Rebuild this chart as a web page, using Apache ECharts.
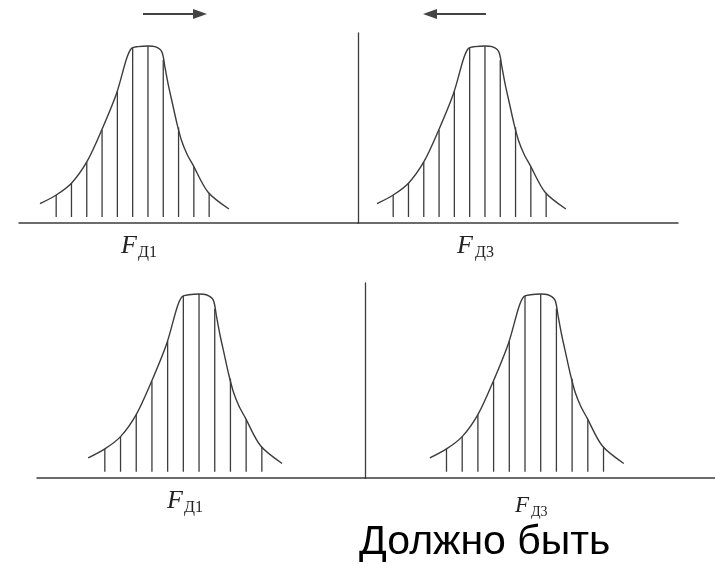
<!DOCTYPE html>
<html>
<head>
<meta charset="utf-8">
<script src="https://cdn.jsdelivr.net/npm/echarts@6/dist/echarts.min.js"></script>
<style>
  html, body { margin: 0; padding: 0; background: #fff; }
  #main { width: 715px; height: 564px; }
</style>
</head>
<body>
<div id="main"></div>
<script>
// bell curve, x in stripe steps from the peak, y in % of peak height
const curveX = [-7.06, -6, -5, -4, -3.1, -2.05, -1.39, -1.07, -0.65, 0, 0.46, 0.9, 1.11, 1.33, 1.6, 1.9, 2.2, 2.55, 2.94, 3.92, 5.29];
const curveY = [10.9, 15.8, 22.5, 34.5, 51, 73.3, 93, 98.7, 99.6, 100, 99.6, 96.8, 88, 78, 67.5, 56, 46.5, 39, 32.8, 17.5, 7.9];

// vertical hatch lines under the curve
const stripeX = [-6, -5, -4, -3, -2, -1, 0, 1, 2, 3, 4];
const stripeTop = [15.8, 22.5, 34.5, 52.5, 74.4, 99, 100, 92, 54, 31.8, 16.8];
const stripeBase = 3.4;

// panel labels
const panelNames = ['Д1', 'Д3', 'Д1', 'Д3'];
const caption = 'Должно быть';

const LINE = '#3c3c3c';

var myChart = echarts.init(document.getElementById('main'));

// 4 panels: [left, top, width, height, xmin, xmax, ymax, showSeparator]
const panels = [
  [19, 33, 339, 190, -8.43, 13.73, 107.3, false],
  [358, 33, 320, 190, -8.3, 12.62, 107.3, true],
  [37, 283, 328, 195, -10.32, 10.57, 106, false],
  [365, 283, 350, 195, -11.19, 11.1, 106, true]
];

const curveData = curveX.map(function (x, i) { return [x, curveY[i]]; });
const stripeData = stripeX.map(function (x, i) { return [x, stripeTop[i]]; });

const grid = [], xAxis = [], yAxis = [], series = [];
panels.forEach(function (p, i) {
  grid.push({ left: p[0], top: p[1], width: p[2], height: p[3], containLabel: false });
  xAxis.push({
    gridIndex: i, type: 'value', min: p[4], max: p[5],
    axisLine: { show: true, onZero: false, lineStyle: { color: LINE, width: 1.5 } },
    axisTick: { show: false }, axisLabel: { show: false }, splitLine: { show: false }
  });
  yAxis.push({
    gridIndex: i, type: 'value', min: 0, max: p[6],
    axisLine: { show: p[7], onZero: false, lineStyle: { color: LINE, width: 1.3 } },
    axisTick: { show: false }, axisLabel: { show: false }, splitLine: { show: false }
  });
  series.push({
    type: 'line', xAxisIndex: i, yAxisIndex: i,
    data: curveData, smooth: 0.3, symbol: 'none',
    lineStyle: { color: LINE, width: 1.4 }
  });
  series.push({
    type: 'custom', xAxisIndex: i, yAxisIndex: i,
    data: stripeData,
    renderItem: function (params, api) {
      var p0 = api.coord([api.value(0), stripeBase]);
      var p1 = api.coord([api.value(0), api.value(1)]);
      return {
        type: 'line',
        shape: { x1: p0[0], y1: p0[1], x2: p1[0], y2: p1[1] },
        style: { stroke: LINE, lineWidth: 1.3 }
      };
    }
  });
});

// label positions: [F x, F y, sub x, sub y, F size, sub size]
const labelPos = [
  [121, 246, 138, 253, 26, 16],
  [457, 246, 475, 253, 26, 16],
  [167, 501, 184, 508, 26, 16],
  [515, 506, 531, 512, 23, 14]
];

const graphic = [];
labelPos.forEach(function (l, i) {
  graphic.push({
    type: 'text', left: l[0], top: l[1] - l[4] / 2,
    style: { text: 'F', font: 'italic ' + l[4] + 'px "Liberation Serif"', fill: '#222' }
  });
  graphic.push({
    type: 'text', left: l[2], top: l[3] - l[5] / 2,
    style: { text: panelNames[i], font: l[5] + 'px "Liberation Serif"', fill: '#222' }
  });
});

// arrows at the top
graphic.push({
  type: 'group',
  children: [
    { type: 'line', shape: { x1: 143, y1: 14, x2: 196, y2: 14 }, style: { stroke: '#444', lineWidth: 2 } },
    { type: 'polygon', shape: { points: [[207, 14], [193, 9], [193, 19]] }, style: { fill: '#444' } },
    { type: 'line', shape: { x1: 434, y1: 14, x2: 486, y2: 14 }, style: { stroke: '#444', lineWidth: 2 } },
    { type: 'polygon', shape: { points: [[423, 14], [437, 9], [437, 19]] }, style: { fill: '#444' } }
  ]
});

graphic.push({
  type: 'text', left: 359, top: 522,
  style: { text: caption, font: '41px "Liberation Sans"', fill: '#000' }
});

myChart.setOption({
  animation: false,
  backgroundColor: '#fff',
  grid: grid,
  xAxis: xAxis,
  yAxis: yAxis,
  series: series,
  graphic: graphic
});
</script>
</body>
</html>
